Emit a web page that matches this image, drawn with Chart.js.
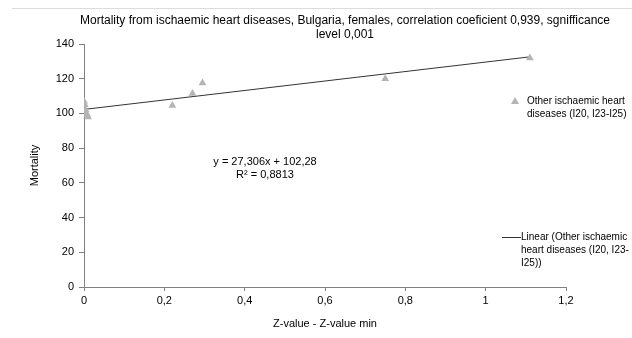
<!DOCTYPE html>
<html>
<head>
<meta charset="utf-8">
<script src="https://cdn.jsdelivr.net/npm/chart.js@4.4.1/dist/chart.umd.min.js"></script>
<style>
  html, body { margin: 0; padding: 0; background: #fff; }
  #wrap { width: 632px; height: 338px; position: relative; }
</style>
</head>
<body>
<div id="wrap"><canvas id="mortalityChart" width="632" height="338"></canvas></div>
<script>
// values
var zValues = [0, 0.002, 0.004, 0.006, 0.008, 0.01, 0.22, 0.27, 0.295, 0.75, 1.11];
var mortality = [107, 105, 102, 100, 99, 98, 104.5, 111.5, 117.5, 120, 132];
var trendX = [0, 1.11];
var trendY = [102.3, 132.6];
var xTicks = [0, 0.2, 0.4, 0.6, 0.8, 1, 1.2];
var yTicks = [0, 20, 40, 60, 80, 100, 120, 140];

var titleLines = ['Mortality from ischaemic heart diseases, Bulgaria, females, correlation coeficient 0,939, sgnifficance', 'level 0,001'];
var equationLines = ['y = 27,306x + 102,28', 'R\u00b2 = 0,8813'];
var seriesName = ['Other ischaemic heart', 'diseases (I20, I23-I25)'];
var trendName = ['Linear (Other ischaemic', 'heart diseases (I20, I23-', 'I25))'];

var FAMILY = '"Liberation Sans", Arial, sans-serif';

function commaNum(v) {
    return String(v).replace('.', ',');
}

var points = [], trend = [];
for (var i = 0; i < zValues.length; i++) points.push({x: zValues[i], y: mortality[i]});
for (var j = 0; j < trendX.length; j++) trend.push({x: trendX[j], y: trendY[j]});

// title, equation, legend and the thin rule at the top
var extras = {
    id: 'extras',
    afterDraw: function(chart) {
        var ctx = chart.ctx;
        ctx.save();
        ctx.strokeStyle = '#dcdcdc';
        ctx.lineWidth = 1;
        ctx.beginPath();
        ctx.moveTo(12, 8.5);
        ctx.lineTo(632, 8.5);
        ctx.stroke();

        ctx.fillStyle = '#000';
        ctx.textBaseline = 'middle';
        ctx.textAlign = 'center';
        ctx.font = '12px ' + FAMILY;
        ctx.fillText(titleLines[0], 345, 21);
        ctx.fillText(titleLines[1], 345, 35);

        ctx.font = '11px ' + FAMILY;
        ctx.fillText(equationLines[0], 265, 162);
        ctx.fillText(equationLines[1], 265, 175);

        // legend
        ctx.font = '10px ' + FAMILY;
        ctx.textAlign = 'left';
        ctx.fillStyle = '#b4b4b4';
        ctx.beginPath();
        ctx.moveTo(515, 97);
        ctx.lineTo(519, 104);
        ctx.lineTo(511, 104);
        ctx.closePath();
        ctx.fill();
        ctx.fillStyle = '#000';
        for (var a = 0; a < seriesName.length; a++) ctx.fillText(seriesName[a], 527, 101 + a * 13);

        ctx.strokeStyle = '#333';
        ctx.beginPath();
        ctx.moveTo(502, 237.5);
        ctx.lineTo(521, 237.5);
        ctx.stroke();
        for (var b = 0; b < trendName.length; b++) ctx.fillText(trendName[b], 521, 237 + b * 13);
        ctx.restore();
    }
};

var ctx = document.getElementById('mortalityChart').getContext('2d');
var chart = new Chart(ctx, {
    type: 'scatter',
    data: {
        datasets: [{
            label: 'Other ischaemic heart diseases (I20, I23-I25)',
            data: points,
            pointStyle: 'triangle',
            pointRadius: 4.5,
            backgroundColor: '#b4b4b4',
            borderColor: '#b4b4b4',
            borderWidth: 0
        }, {
            type: 'line',
            label: 'Linear (Other ischaemic heart diseases (I20, I23-I25))',
            data: trend,
            borderColor: '#333',
            borderWidth: 1,
            pointRadius: 0,
            fill: false
        }]
    },
    options: {
        responsive: false,
        animation: false,
        devicePixelRatio: 1,
        layout: { padding: { top: 44, right: 66, left: 0, bottom: 0 } },
        plugins: {
            legend: { display: false },
            tooltip: { enabled: false }
        },
        scales: {
            x: {
                type: 'linear',
                min: 0,
                max: 1.2,
                afterBuildTicks: function(axis) {
                    axis.ticks = xTicks.map(function(v) { return {value: v}; });
                },
                afterFit: function(axis) { axis.height = 51; },
                grid: { drawOnChartArea: false, drawTicks: true, tickLength: 4, color: '#7f7f7f' },
                border: { color: '#7f7f7f' },
                ticks: {
                    padding: 3,
                    maxRotation: 0,
                    color: '#000',
                    font: { family: FAMILY, size: 11 },
                    callback: function(v) { return commaNum(v); }
                },
                title: {
                    display: true,
                    text: 'Z-value - Z-value min',
                    color: '#000',
                    padding: { top: 0, bottom: 7 },
                    font: { family: FAMILY, size: 11 }
                }
            },
            y: {
                min: 0,
                max: 140,
                afterBuildTicks: function(axis) {
                    axis.ticks = yTicks.map(function(v) { return {value: v}; });
                },
                afterFit: function(axis) { axis.width = 84; },
                grid: { drawOnChartArea: false, drawTicks: true, tickLength: 5, color: '#7f7f7f' },
                border: { color: '#7f7f7f' },
                ticks: {
                    padding: 5,
                    color: '#000',
                    font: { family: FAMILY, size: 11 }
                },
                title: {
                    display: true,
                    text: 'Mortality',
                    color: '#000',
                    padding: { top: 28, bottom: 0 },
                    font: { family: FAMILY, size: 11 }
                }
            }
        }
    },
    plugins: [extras]
});
</script>
</body>
</html>
